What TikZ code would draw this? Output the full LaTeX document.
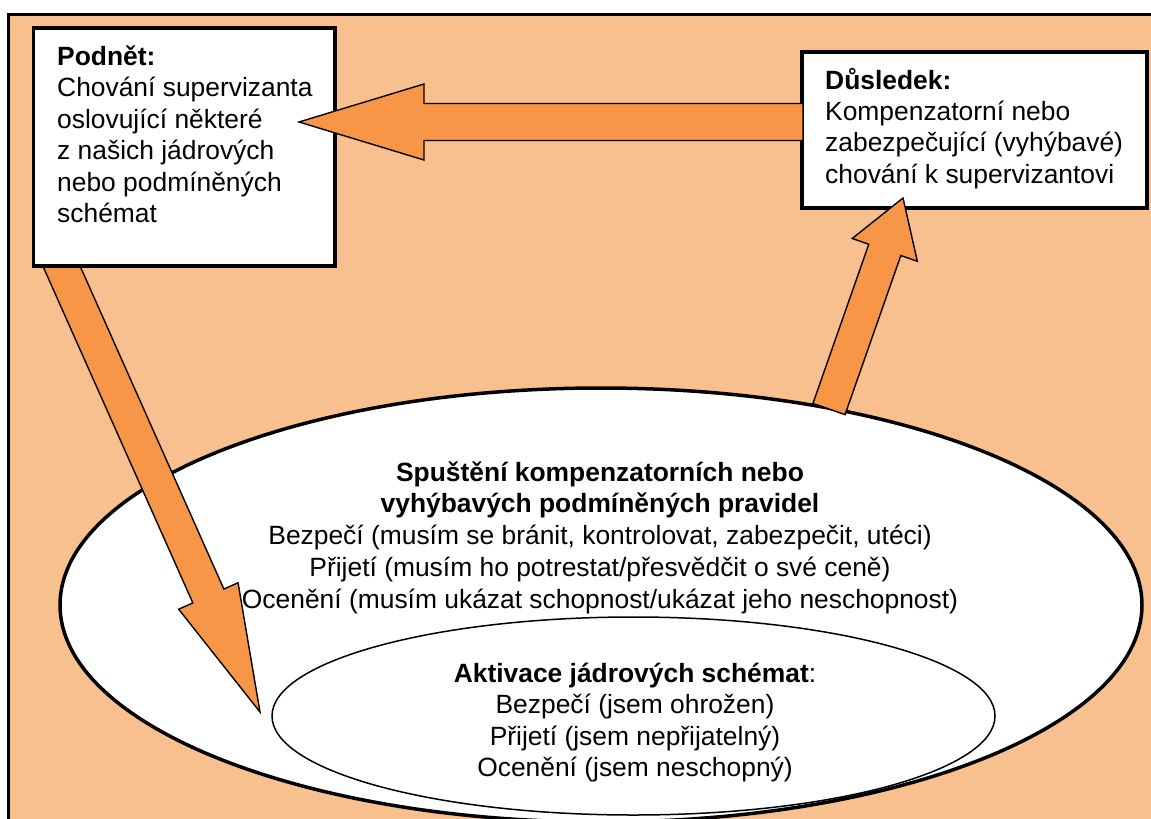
\documentclass[tikz,border=0pt]{standalone}
\usepackage{fontspec}
\setmainfont{Liberation Sans}
\usetikzlibrary{calc,shapes.geometric}
\definecolor{peach}{HTML}{F9C08F}
\definecolor{orangefill}{HTML}{F79646}
% block arrow: #1 start, #2 tip, #3 shaft half width, #4 head half width, #5 head length
\newcommand\blockarrow[5]{%
  \path ($(#2)!#5!(#1)$) coordinate (#1-h);
  \draw[barrow] ($(#1)!#3!90:(#2)$) -- ($(#1-h)!#3!90:(#2)$) -- ($(#1-h)!#4!90:(#2)$) -- (#2)
    -- ($(#1-h)!#4!-90:(#2)$) -- ($(#1-h)!#3!-90:(#2)$) -- ($(#1)!#3!-90:(#2)$) -- cycle;
}
\begin{document}
\begin{tikzpicture}[x=1pt,y=-1pt,
  frame/.style={draw=black, line width=3pt, fill=peach},
  box/.style={draw=black, line width=3.2pt, fill=white, rectangle, inner sep=0pt},
  bigell/.style={ellipse, draw=black, line width=3.5pt, fill=white, inner sep=0pt},
  smallell/.style={ellipse, draw=black, line width=1.5pt, fill=white, inner sep=0pt},
  barrow/.style={draw=black, line width=1.4pt, fill=orangefill, line join=miter},
  txt/.style={inner sep=0pt, font=\fontsize{26.4}{31.4}\selectfont},
  ellbig/.style={inner sep=0pt, font=\fontsize{26.4}{31.8}\selectfont},
  ellsmall/.style={inner sep=0pt, font=\fontsize{26.4}{31.5}\selectfont}]
\useasboundingbox (0,0) rectangle (1151,819);
\fill[white] (0,0) rectangle (1151,819);
\clip (0,0) rectangle (1151,819);
\draw[frame] (8,14.5) rectangle (1170,840);

% ellipses
\node[bigell, minimum width=1082pt, minimum height=434pt] (rules) at (601,605) {};
\node[smallell, minimum width=723pt, minimum height=198pt] (core) at (633.5,716) {};
\node[ellbig, anchor=base] (rulestext) at (600,481) {\begin{tabular}[t]{@{}c@{}}
\textbf{Spuštění kompenzatorních nebo}\\
\textbf{vyhýbavých podmíněných pravidel}\\
Bezpečí (musím se bránit, kontrolovat, zabezpečit, utéci)\\
Přijetí (musím ho potrestat/přesvědčit o své ceně)\\
Ocenění (musím ukázat schopnost/ukázat jeho neschopnost)\end{tabular}};
\node[ellsmall, anchor=base] (coretext) at (635,682) {\begin{tabular}[t]{@{}c@{}}
\textbf{Aktivace jádrových schémat}:\\
Bezpečí (jsem ohrožen)\\
Přijetí (jsem nepřijatelný)\\
Ocenění (jsem neschopný)\end{tabular}};

% arrow from stimulus down into the ellipses
\coordinate (a1) at (57,256);
\coordinate (a1tip) at (260,712);
\blockarrow{a1}{a1tip}{17pt}{32.5pt}{127pt}

% boxes
\node[box, minimum width=301.5pt, minimum height=238pt] (stimulus) at (184.25,147) {};
\node[box, minimum width=345pt, minimum height=156pt] (consequence) at (974.5,130) {};
\node[txt, anchor=base west] (stimtext) at (57,65.5) {\begin{tabular}[t]{@{}l@{}}
\textbf{Podnět:}\\
Chování supervizanta\\
oslovující některé\\
z našich jádrových\\
nebo podmíněných\\
schémat\end{tabular}};
\node[txt, anchor=base west] (constext) at (825,89) {\begin{tabular}[t]{@{}l@{}}
\textbf{Důsledek:}\\
Kompenzatorní nebo\\
zabezpečující (vyhýbavé)\\
chování k supervizantovi\end{tabular}};

% arrow from ellipse up to consequence
\coordinate (a2) at (829,409);
\coordinate (a2tip) at (903,198);
\blockarrow{a2}{a2tip}{17pt}{34.5pt}{55pt}

% arrow from consequence back to stimulus
\coordinate (a3) at (803,122);
\coordinate (a3tip) at (299,122);
\blockarrow{a3}{a3tip}{18.5pt}{38pt}{125pt}
\end{tikzpicture}
\end{document}
